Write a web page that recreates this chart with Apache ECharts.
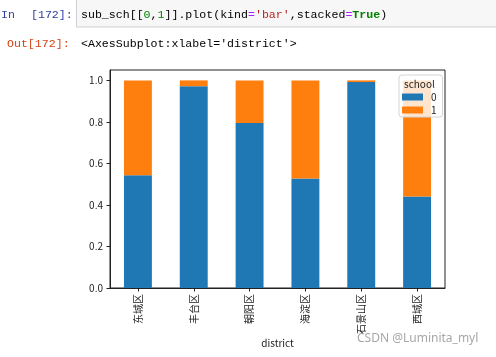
<!DOCTYPE html>
<html>
<head>
<meta charset="utf-8">
<script src="https://cdn.jsdelivr.net/npm/echarts@6/dist/echarts.min.js"></script>
<style>
html,body{margin:0;padding:0;background:#fff;}
#chart{width:496px;height:357px;}
</style>
</head>
<body>
<div id="chart"></div>
<script>
const categories = ['东城区', '丰台区', '朝阳区', '海淀区', '石景山区', '西城区'];
const school0 = [0.543, 0.972, 0.795, 0.528, 0.992, 0.441];
const school1 = [0.457, 0.028, 0.205, 0.472, 0.008, 0.559];
const seriesNames = ['0', '1'];
const yTicks = [0, 0.2, 0.4, 0.6, 0.8, 1.0];

const mono = '"Liberation Mono", "DejaVu Sans Mono", monospace';
const cjk = '"Noto Sans CJK SC", "DejaVu Sans", sans-serif';

const chart = echarts.init(document.getElementById('chart'), null, {renderer: 'canvas'});
chart.setOption({
  animation: false,
  backgroundColor: '#fff',
  color: ['#1f77b4', '#ff7f0e'],
  grid: {left: 110, right: 51, top: 70, bottom: 69, show: true, borderColor: '#222', borderWidth: 1, backgroundColor: 'transparent'},
  xAxis: {
    type: 'category',
    data: categories,
    boundaryGap: true,
    name: 'district',
    nameLocation: 'middle',
    nameGap: 50,
    nameMoveOverlap: false,
    nameTextStyle: {fontFamily: cjk, fontSize: 10, color: '#222'},
    axisLine: {show: true, lineStyle: {color: '#222', width: 1}},
    axisTick: {show: true, alignWithLabel: true, length: 3.5, lineStyle: {color: '#222'}},
    axisLabel: {rotate: 90, margin: 6, fontFamily: cjk, fontSize: 10, color: '#222'},
    splitLine: {show: false}
  },
  yAxis: {
    type: 'value',
    min: 0,
    max: 1.05,
    interval: 0.2,
    axisLine: {show: true, lineStyle: {color: '#222', width: 1}},
    axisTick: {show: true, length: 3.5, lineStyle: {color: '#222'}, customValues: yTicks},
    axisLabel: {margin: 7, fontFamily: cjk, fontSize: 10, color: '#222', customValues: yTicks,
      formatter: v => Number(v).toFixed(1)},
    splitLine: {show: false}
  },
  legend: {
    orient: 'vertical',
    left: 399,
    top: 75,
    padding: [16, 6, 1, 3],
    itemGap: 1,
    itemWidth: 21,
    itemHeight: 7,
    icon: 'rect',
    backgroundColor: 'rgba(255,255,255,0.8)',
    borderColor: '#d4d4d4',
    borderWidth: 1,
    borderRadius: 3,
    data: seriesNames,
    textStyle: {fontFamily: cjk, fontSize: 10, color: '#222', padding: [0, 0, 0, 3], lineHeight: 12},
    z: 10
  },
  series: [
    {name: seriesNames[0], type: 'bar', stack: 'total', data: school0, barWidth: '50%'},
    {name: seriesNames[1], type: 'bar', stack: 'total', data: school1, barWidth: '50%'}
  ],
  graphic: [
    {type: 'rect', z: 1, shape: {x: 76.5, y: -2, width: 430, height: 29},
      style: {fill: '#f7f7f7', stroke: '#cfcfcf', lineWidth: 1}},
    {type: 'text', z: 2, left: 1, top: 9,
      style: {text: '{a|In}{b|[172]:}', font: '11.6px ' + mono,
        rich: {a: {fill: '#303F9F', width: 30, font: '11.6px ' + mono}, b: {fill: '#303F9F', font: '11.6px ' + mono}}}},
    {type: 'text', z: 2, left: 81, top: 9,
      style: {
        text: '{d|sub_sch[[}{n|0}{d|,}{n|1}{d|]].plot(kind}{o|=}{s|\'bar\'}{d|,stacked}{o|=}{k|True}{d|)}',
        font: '11.6px ' + mono,
        rich: {
          d: {fill: '#000', font: '11.6px ' + mono},
          n: {fill: '#008000', font: '11.6px ' + mono},
          o: {fill: '#AA22FF', font: '11.6px ' + mono},
          s: {fill: '#BA2121', font: '11.6px ' + mono},
          k: {fill: '#008000', font: 'bold 11.6px ' + mono}
        }
      }},
    {type: 'text', z: 2, left: 7, top: 38,
      style: {text: 'Out[172]:', font: '11.6px ' + mono, fill: '#D84315'}},
    {type: 'text', z: 2, left: 81, top: 38,
      style: {text: "<AxesSubplot:xlabel='district'>", font: '11.6px ' + mono, fill: '#000'}},
    {type: 'text', z: 100, left: 404, top: 79,
      style: {text: 'school', font: '10px ' + cjk, fill: '#222'}},
    {type: 'text', z: 100, left: 357, top: 333,
      style: {text: 'CSDN @Luminita_myl', font: '12px "Noto Sans", sans-serif', fill: 'rgba(150,150,150,0.85)'}}
  ]
});
</script>
</body>
</html>
